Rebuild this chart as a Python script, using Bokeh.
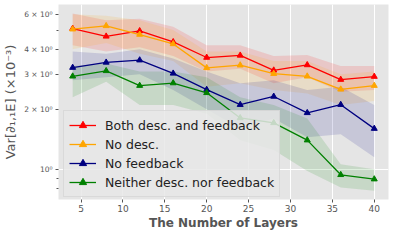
from bokeh.plotting import figure
from bokeh.models import Range1d, FixedTicker
from bokeh.embed import file_html
from bokeh.resources import INLINE

layers = [4, 8, 12, 16, 20, 24, 28, 32, 36, 40]
x_ticks = [5, 10, 15, 20, 25, 30, 35, 40]
y_ticks = [1, 2, 3, 4, 6]
y_tick_labels = ["10⁰", "2 × 10⁰", "3 × 10⁰", "4 × 10⁰", "6 × 10⁰"]
y_minor_ticks = [0.8, 0.9, 5]

both_mean = [5.09, 4.65, 4.95, 4.36, 3.64, 3.73, 3.14, 3.34, 2.82, 2.92]
both_upper = [6.05, 5.6, 5.7, 5.2, 4.2, 4.2, 3.7, 3.75, 3.3, 3.3]
both_lower = [4.2, 3.9, 4.1, 3.7, 3.1, 3.2, 2.7, 2.9, 2.45, 2.5]

nodesc_mean = [5.05, 5.25, 4.75, 4.26, 3.23, 3.33, 3.02, 2.93, 2.52, 2.63]
nodesc_upper = [6.0, 5.9, 5.6, 5.0, 3.9, 3.9, 3.5, 3.5, 3.0, 3.1]
nodesc_lower = [4.0, 4.3, 3.8, 3.5, 2.6, 2.7, 2.5, 2.4, 2.1, 2.2]

nofb_mean = [3.24, 3.44, 3.53, 3.03, 2.51, 2.11, 2.32, 1.92, 2.11, 1.60]
nofb_upper = [3.9, 3.8, 4.0, 3.6, 3.1, 2.7, 2.8, 2.5, 2.6, 2.1]
nofb_lower = [2.8, 2.9, 3.0, 2.5, 2.0, 1.6, 1.8, 1.45, 1.5, 1.15]

neither_mean = [2.93, 3.12, 2.63, 2.71, 2.42, 1.81, 1.71, 1.40, 0.938, 0.892]
neither_upper = [3.3, 3.4, 3.1, 3.1, 2.9, 2.3, 2.1, 1.8, 1.06, 1.0]
neither_lower = [2.3, 2.75, 2.1, 2.1, 1.9, 1.4, 1.25, 0.98, 0.81, 0.78]

labels = ["Both desc. and feedback", "No desc.", "No feedback", "Neither desc. nor feedback"]
colors = ["red", "orange", "navy", "green"]

series = [
    (both_mean, both_upper, both_lower),
    (nodesc_mean, nodesc_upper, nodesc_lower),
    (nofb_mean, nofb_upper, nofb_lower),
    (neither_mean, neither_upper, neither_lower),
]

FONT = "DejaVu Sans"
GRAY = "#555555"

p = figure(width=391, height=232, y_axis_type="log",
           x_range=Range1d(2.31, 41.7), y_range=Range1d(0.705, 6.72),
           output_backend="svg", toolbar_location=None,
           min_border_left=42, min_border_right=3, min_border_top=4, min_border_bottom=0)
p.background_fill_color = "#E5E5E5"
p.border_fill_color = "white"
p.outline_line_color = None

for (m, u, l), c in zip(series, colors):
    p.varea(x=layers, y1=l, y2=u, fill_color=c, fill_alpha=0.13)

for (m, u, l), c, lab in zip(series, colors, labels):
    p.line(layers, m, line_color=c, line_width=1.3, legend_label=lab)
    p.scatter(layers, m, marker="triangle", size=6, fill_color=c, line_color=c, legend_label=lab)

xa = p.xaxis[0]
xa.ticker = FixedTicker(ticks=x_ticks, minor_ticks=[])
xa.axis_line_color = None
xa.major_tick_line_color = GRAY
xa.major_tick_in = 0
xa.major_tick_out = 3
xa.major_label_standoff = 2
xa.major_label_text_font = FONT
xa.major_label_text_font_size = "9px"
xa.major_label_text_color = GRAY
xa.axis_label = "The Number of Layers"
xa.axis_label_text_font = FONT
xa.axis_label_text_font_size = "12px"
xa.axis_label_text_font_style = "bold"
xa.axis_label_text_color = GRAY
xa.axis_label_standoff = 1

ya = p.yaxis[0]
ya.ticker = FixedTicker(ticks=y_ticks, minor_ticks=y_minor_ticks)
ya.axis_line_color = None
ya.major_tick_line_color = GRAY
ya.minor_tick_line_color = GRAY
ya.major_tick_in = 0
ya.major_tick_out = 3
ya.minor_tick_in = 0
ya.minor_tick_out = 2
ya.major_label_overrides = {t: s for t, s in zip(y_ticks, y_tick_labels)}
ya.major_label_standoff = 3
ya.major_label_text_font = FONT
ya.major_label_text_font_size = "7.5px"
ya.major_label_text_color = GRAY
ya.axis_label = "Var[∂₁,₁E] (×10⁻³)"
ya.axis_label_text_font = FONT
ya.axis_label_text_font_size = "13px"
ya.axis_label_text_font_style = "normal"
ya.axis_label_text_color = GRAY
ya.axis_label_standoff = 3

p.xgrid.grid_line_color = "white"
p.xgrid.grid_line_width = 1
p.ygrid.ticker = FixedTicker(ticks=[1])
p.ygrid.grid_line_color = "white"
p.ygrid.grid_line_width = 1

lg = p.legend[0]
lg.location = (5, 2)
lg.label_text_font = FONT
lg.label_text_font_size = "12.5px"
lg.label_text_color = "#222222"
lg.label_height = 18
lg.glyph_height = 18
lg.glyph_width = 27
lg.label_standoff = 9
lg.spacing = 1
lg.padding = 5
lg.margin = 0
lg.background_fill_color = "#E8E8E8"
lg.background_fill_alpha = 0.85
lg.border_line_color = "#CCCCCC"

open("out.html", "w").write(file_html(p, INLINE))
